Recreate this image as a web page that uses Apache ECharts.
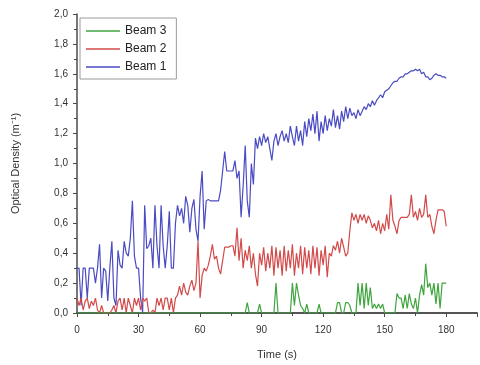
<!DOCTYPE html>
<html>
<head>
<meta charset="utf-8">
<script src="https://cdn.jsdelivr.net/npm/echarts@6/dist/echarts.min.js"></script>
<style>
  html, body { margin: 0; padding: 0; background: #fff; }
  #chart { width: 480px; height: 365px; }
</style>
</head>
<body>
<div id="chart"></div>
<script>
// sample every 1 s, 0..180
const beam1 = [
  0.30, 0.30, 0.05, 0.30, 0.30, 0.10, 0.30, 0.30, 0.30, 0.20,
  0.30, 0.46, 0.10, 0.30, 0.28, 0.08, 0.30, 0.48, 0.10, 0.05,
  0.42, 0.32, 0.30, 0.48, 0.40, 0.38, 0.50, 0.75, 0.38, 0.30,
  0.30, 0.10, 0.00, 0.72, 0.43, 0.45, 0.50, 0.30, 0.72, 0.45,
  0.30, 0.72, 0.45, 0.30, 0.45, 0.68, 0.30, 0.30, 0.60, 0.72,
  0.65, 0.70, 0.60, 0.78, 0.72, 0.54, 0.70, 0.76, 0.56, 0.48,
  0.78, 0.95, 0.56, 0.75, 0.76, 0.75, 0.75, 0.75, 0.75, 0.75,
  0.82, 0.95, 1.08, 0.95, 0.95, 0.95, 0.95, 1.02, 0.90, 0.95,
  0.64, 0.85, 1.12, 0.75, 0.64, 1.00, 0.86, 1.17, 1.10, 1.18,
  1.12, 1.20, 1.14, 1.18, 1.10, 1.02, 1.15, 1.20, 1.12, 1.18,
  1.22, 1.15, 1.20, 1.14, 1.25, 1.18, 1.12, 1.25, 1.15, 1.22,
  1.12, 1.28, 1.18, 1.30, 1.22, 1.33, 1.20, 1.35, 1.15, 1.28,
  1.20, 1.32, 1.22, 1.30, 1.25, 1.36, 1.24, 1.32, 1.23, 1.35,
  1.28, 1.38, 1.30, 1.37, 1.32, 1.34, 1.30, 1.36, 1.32, 1.35,
  1.38, 1.36, 1.40, 1.38, 1.42, 1.39, 1.42, 1.44, 1.46, 1.44,
  1.48, 1.49, 1.50, 1.52, 1.54, 1.55, 1.55, 1.57, 1.58, 1.58,
  1.60, 1.60, 1.61, 1.62, 1.62, 1.63, 1.62, 1.63, 1.60, 1.61,
  1.58, 1.58, 1.56, 1.57, 1.59, 1.60, 1.59, 1.59, 1.58, 1.58,
  1.57
];
const beam2 = [
  0.10, 0.05, 0.10, 0.02, 0.08, 0.10, 0.03, 0.08, 0.05, 0.10,
  0.02, 0.00, 0.05, 0.00, 0.00, 0.00, 0.00, 0.02, 0.05, 0.00,
  0.08, 0.10, 0.02, 0.10, 0.00, 0.10, 0.05, 0.00, 0.10, 0.05,
  0.10, 0.02, 0.10, 0.08, 0.10, 0.00, 0.00, 0.02, 0.00, 0.10,
  0.05, 0.10, 0.02, 0.10, 0.10, 0.02, 0.10, 0.00, 0.10, 0.12,
  0.18, 0.12, 0.20, 0.14, 0.12, 0.18, 0.22, 0.15, 0.20, 0.48,
  0.10, 0.25, 0.30, 0.28, 0.32, 0.38, 0.46, 0.36, 0.38, 0.30,
  0.26, 0.35, 0.44, 0.44, 0.44, 0.45, 0.45, 0.38, 0.57, 0.35,
  0.50, 0.30, 0.42, 0.35, 0.45, 0.30, 0.40, 0.26, 0.18, 0.40,
  0.32, 0.44, 0.28, 0.40, 0.30, 0.45, 0.25, 0.44, 0.30, 0.42,
  0.25, 0.45, 0.28, 0.42, 0.30, 0.46, 0.25, 0.40, 0.30, 0.45,
  0.26, 0.44, 0.30, 0.42, 0.26, 0.45, 0.30, 0.44, 0.25, 0.42,
  0.32, 0.45, 0.24, 0.40, 0.38, 0.45, 0.42, 0.48, 0.40, 0.50,
  0.44, 0.38, 0.40, 0.55, 0.67, 0.62, 0.66, 0.60, 0.66, 0.62,
  0.66, 0.60, 0.65, 0.62, 0.57, 0.60, 0.55, 0.62, 0.53, 0.60,
  0.55, 0.66, 0.56, 0.79, 0.62, 0.58, 0.53, 0.62, 0.64, 0.64,
  0.64, 0.64, 0.66, 0.79, 0.64, 0.68, 0.62, 0.70, 0.64, 0.66,
  0.79, 0.64, 0.66, 0.58, 0.53, 0.62, 0.69, 0.69, 0.69, 0.68,
  0.58
];
const beam3 = [
  0, 0, 0, 0, 0, 0, 0, 0, 0, 0,
  0, 0, 0, 0, 0, 0, 0, 0, 0, 0,
  0, 0, 0, 0, 0, 0, 0, 0, 0, 0,
  0, 0, 0, 0, 0, 0, 0, 0, 0, 0,
  0, 0, 0, 0, 0, 0, 0, 0, 0, 0,
  0, 0, 0, 0, 0, 0, 0, 0, 0, 0,
  0, 0, 0, 0, 0, 0, 0, 0, 0, 0,
  0, 0, 0, 0, 0, 0, 0, 0, 0, 0,
  0, 0, 0, 0.07, 0, 0, 0, 0, 0, 0.06,
  0, 0, 0, 0, 0, 0, 0, 0.20, 0, 0,
  0, 0, 0, 0, 0, 0.20, 0.05, 0.20, 0.12, 0.05,
  0.03, 0, 0.06, 0, 0, 0, 0, 0, 0.06, 0,
  0, 0, 0, 0, 0, 0, 0, 0.07, 0.07, 0,
  0, 0.07, 0.07, 0.05, 0, 0, 0, 0.20, 0.05, 0.20,
  0.03, 0.20, 0.05, 0.17, 0.03, 0.06, 0.03, 0.06, 0.03, 0.06,
  0, 0, 0, 0, 0, 0, 0.13, 0.10, 0.10, 0.03,
  0.12, 0.03, 0.13, 0.06, 0.03, 0.10, 0, 0.12, 0.19, 0.12,
  0.33, 0.17, 0.20, 0.12, 0.20, 0.06, 0.20, 0.03, 0.20, 0.20,
  0.20
];
const xTicks = [0, 30, 60, 90, 120, 150, 180];

const COLORS = {
  beam1: '#4a4ac4',
  beam2: '#d24a4a',
  beam3: '#3fa53f',
  axis:  '#4a4a4a',
  text:  '#333',
};
const FONT = '"Liberation Sans", Arial, sans-serif';

const pairs = vals => vals.map((v, i) => [i, v]);

const chart = echarts.init(document.getElementById('chart'), null, { renderer: 'canvas' });

chart.setOption({
  animation: false,
  backgroundColor: '#fff',
  textStyle: { fontFamily: FONT },
  grid: { left: 77, right: 3, top: 14, bottom: 48 },
  legend: {
    orient: 'vertical',
    left: 80,
    top: 18,
    data: ['Beam 3', 'Beam 2', 'Beam 1'],
    icon: 'rect',
    itemWidth: 34,
    itemHeight: 1.5,
    itemGap: 6,
    padding: [7, 10, 6, 6],
    borderColor: '#9a9a9a',
    borderWidth: 1,
    textStyle: { color: '#222', fontSize: 12, fontFamily: FONT },
  },
  xAxis: [
    {
      type: 'value',
      min: 0,
      max: 195,
      interval: 30,
      name: 'Time (s)',
      nameLocation: 'middle',
      nameGap: 36,
      nameTextStyle: { color: COLORS.text, fontSize: 11 },
      axisLine: { onZero: false, lineStyle: { color: COLORS.axis, width: 1.5 } },
      axisTick: { length: 4, lineStyle: { color: COLORS.axis } },
      minorTick: { show: true, splitNumber: 2, length: 3, lineStyle: { color: COLORS.axis } },
      axisLabel: {
        color: COLORS.text, fontSize: 10, margin: 12,
        formatter: v => xTicks.includes(v) ? String(v) : '',
      },
      splitLine: { show: false },
    },
    {
      type: 'value',
      position: 'top',
      min: 0,
      max: 195,
      axisLine: { show: true, lineStyle: { color: COLORS.axis, width: 1.5 } },
      axisTick: { show: false },
      axisLabel: { show: false },
      splitLine: { show: false },
    },
  ],
  yAxis: {
    type: 'value',
    min: 0,
    max: 2,
    interval: 0.2,
    name: 'Optical Density (m\u207B\u00B9)',
    nameLocation: 'middle',
    nameGap: 56,
    nameTextStyle: { color: COLORS.text, fontSize: 11 },
    axisLine: { show: true, lineStyle: { color: COLORS.axis, width: 1.5 } },
    axisTick: { length: 4, lineStyle: { color: COLORS.axis } },
    minorTick: { show: true, splitNumber: 2, length: 3, lineStyle: { color: COLORS.axis } },
    axisLabel: {
      color: COLORS.text, fontSize: 10, margin: 9,
      formatter: v => v.toFixed(1).replace('.', ','),
    },
    splitLine: { show: false },
  },
  series: [
    {
      name: 'Beam 1', type: 'line', data: pairs(beam1), symbol: 'none',
      lineStyle: { color: COLORS.beam1, width: 1.2 }, itemStyle: { color: COLORS.beam1 },
    },
    {
      name: 'Beam 2', type: 'line', data: pairs(beam2), symbol: 'none',
      lineStyle: { color: COLORS.beam2, width: 1.2 }, itemStyle: { color: COLORS.beam2 },
    },
    {
      name: 'Beam 3', type: 'line', data: pairs(beam3), symbol: 'none',
      lineStyle: { color: COLORS.beam3, width: 1.2 }, itemStyle: { color: COLORS.beam3 },
    },
  ],
});
</script>
</body>
</html>
